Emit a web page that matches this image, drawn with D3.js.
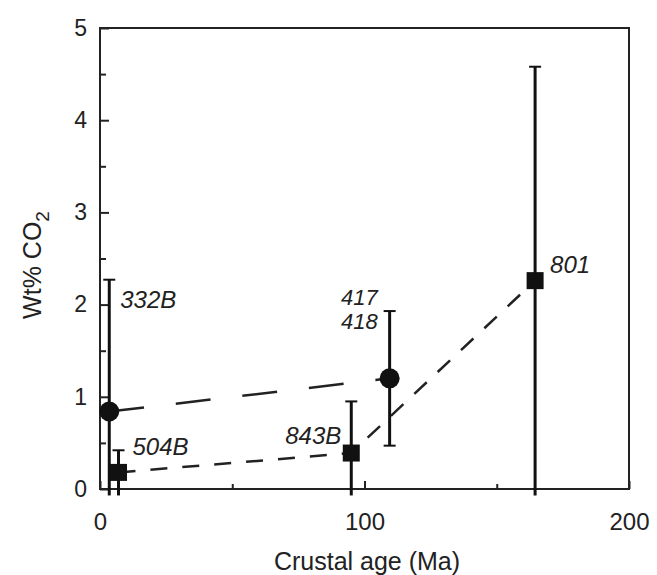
<!DOCTYPE html>
<html>
<head>
<meta charset="utf-8">
<script src="https://cdn.jsdelivr.net/npm/d3@7"></script>
<style>
  body { margin: 0; background: #fff; }
  text { font-family: "Liberation Sans", Arial, Helvetica, sans-serif; fill: #222; }
  .lbl { font-style: italic; }
</style>
</head>
<body>
<svg id="chart" width="657" height="575"></svg>
<script>
// site data
var sites  = ["332B", "504B", "843B", "417/418", "801"];
var age    = [3.5, 7, 95, 109.5, 164.5];
var co2    = [0.84, 0.18, 0.39, 1.2, 2.26];
var errLo  = [-0.07, -0.07, -0.07, 0.47, -0.07];
var errHi  = [2.27, 0.42, 0.95, 1.93, 4.58];
var marker = ["circle", "square", "square", "circle", "square"];

var xTicks = [0, 50, 100, 150, 200];
var xLabels = [0, 100, 200];
var yTicks = [0, 0.5, 1, 1.5, 2, 2.5, 3, 3.5, 4, 4.5, 5];
var yLabels = [0, 1, 2, 3, 4, 5];

var svg = d3.select("svg");

var x = d3.scaleLinear().domain([0, 200]).range([100, 629]);
var y = d3.scaleLinear().domain([0, 5]).range([489, 28]);

var pts = sites.map(function(s, i) {
    return {site: s, age: age[i], co2: co2[i], lo: errLo[i], hi: errHi[i], m: marker[i]};
});

// frame
svg.append("rect")
    .attr("x", x(0)).attr("y", y(5))
    .attr("width", x(200) - x(0)).attr("height", y(0) - y(5))
    .attr("fill", "none").attr("stroke", "#222").attr("stroke-width", 2);

// bottom axis, ticks point inside
var xAxis = svg.append("g")
    .attr("transform", "translate(0," + y(0) + ")")
    .call(d3.axisBottom(x).tickValues(xTicks).tickSizeOuter(0)
        .tickSize(0)
        .tickFormat(function(d) { return xLabels.indexOf(d) >= 0 ? d : ""; }));
xAxis.select(".domain").remove();
xAxis.selectAll(".tick line")
    .attr("y2", function(d) { return xLabels.indexOf(d) >= 0 ? -8 : -5; })
    .attr("stroke", "#222").attr("stroke-width", 2);
xAxis.selectAll(".tick text")
    .attr("y", 29).attr("dy", "0.5em")
    .style("font-size", "24px");

// left axis
var yAxis = svg.append("g")
    .attr("transform", "translate(" + x(0) + ",0)")
    .call(d3.axisLeft(y).tickValues(yTicks).tickSizeOuter(0)
        .tickSize(0)
        .tickFormat(function(d) { return yLabels.indexOf(d) >= 0 ? d : ""; }));
yAxis.select(".domain").remove();
yAxis.selectAll(".tick line")
    .attr("x2", function(d) { return yLabels.indexOf(d) >= 0 ? 9 : 6; })
    .attr("stroke", "#222").attr("stroke-width", 2);
yAxis.selectAll(".tick text")
    .attr("x", -13)
    .style("font-size", "23px");

// axis titles
svg.append("text")
    .attr("x", 367).attr("y", 570)
    .attr("text-anchor", "middle")
    .style("font-size", "25px")
    .text("Crustal age (Ma)");

var yt = svg.append("text")
    .attr("transform", "translate(41,265) rotate(-90)")
    .attr("text-anchor", "middle")
    .style("font-size", "25px");
yt.append("tspan").text("Wt% CO");
yt.append("tspan").attr("dy", 8).style("font-size", "19px").text("2");

// trend lines
var line = d3.line()
    .x(function(d) { return x(d.age); })
    .y(function(d) { return y(d.co2); });

svg.append("path")
    .datum(pts.filter(function(d) { return d.m === "circle"; }))
    .attr("d", line)
    .attr("fill", "none").attr("stroke", "#222").attr("stroke-width", 2.5)
    .attr("stroke-dasharray", "35,32");

svg.append("path")
    .datum(pts.filter(function(d) { return d.m === "square"; }))
    .attr("d", line)
    .attr("fill", "none").attr("stroke", "#222").attr("stroke-width", 2.5)
    .attr("stroke-dasharray", "17,15");

// error bars
var bars = svg.selectAll(".err")
    .data(pts)
    .enter().append("g")
    .attr("class", "err");

bars.append("line")
    .attr("x1", function(d) { return x(d.age); })
    .attr("x2", function(d) { return x(d.age); })
    .attr("y1", function(d) { return y(d.lo); })
    .attr("y2", function(d) { return y(d.hi); })
    .attr("stroke", "#111").attr("stroke-width", 3);

bars.append("line")
    .attr("x1", function(d) { return x(d.age) - 6; })
    .attr("x2", function(d) { return x(d.age) + 6; })
    .attr("y1", function(d) { return y(d.hi); })
    .attr("y2", function(d) { return y(d.hi); })
    .attr("stroke", "#111").attr("stroke-width", 2);

bars.filter(function(d) { return d.lo > 0; })
    .append("line")
    .attr("x1", function(d) { return x(d.age) - 6; })
    .attr("x2", function(d) { return x(d.age) + 6; })
    .attr("y1", function(d) { return y(d.lo); })
    .attr("y2", function(d) { return y(d.lo); })
    .attr("stroke", "#111").attr("stroke-width", 2);

// markers
svg.selectAll(".dot")
    .data(pts.filter(function(d) { return d.m === "circle"; }))
    .enter().append("circle")
    .attr("cx", function(d) { return x(d.age); })
    .attr("cy", function(d) { return y(d.co2); })
    .attr("r", 10)
    .attr("fill", "#111");

svg.selectAll(".sq")
    .data(pts.filter(function(d) { return d.m === "square"; }))
    .enter().append("rect")
    .attr("x", function(d) { return x(d.age) - 8.5; })
    .attr("y", function(d) { return y(d.co2) - 8.5; })
    .attr("width", 17).attr("height", 17)
    .attr("fill", "#111");

// site labels (offsets in px from the marker / bar)
var labelPos = {
    "332B": {dx: 11, y: 1.96, anchor: "start"},
    "504B": {dx: 14, y: 0.37, anchor: "start"},
    "843B": {dx: -10, y: 0.49, anchor: "end"},
    "801": {dx: 15, y: 2.34, anchor: "start"}
};
pts.forEach(function(d) {
    if (d.site === "417/418") {
        var t = svg.append("text").attr("class", "lbl")
            .attr("text-anchor", "end")
            .style("font-size", "22px");
        t.append("tspan").attr("x", x(d.age) - 12).attr("y", y(2.0)).text("417");
        t.append("tspan").attr("x", x(d.age) - 12).attr("y", y(1.74)).text("418");
        return;
    }
    var p = labelPos[d.site];
    svg.append("text").attr("class", "lbl")
        .attr("x", x(d.age) + p.dx)
        .attr("y", y(p.y))
        .attr("text-anchor", p.anchor)
        .style("font-size", "24px")
        .text(d.site);
});
</script>
</body>
</html>
